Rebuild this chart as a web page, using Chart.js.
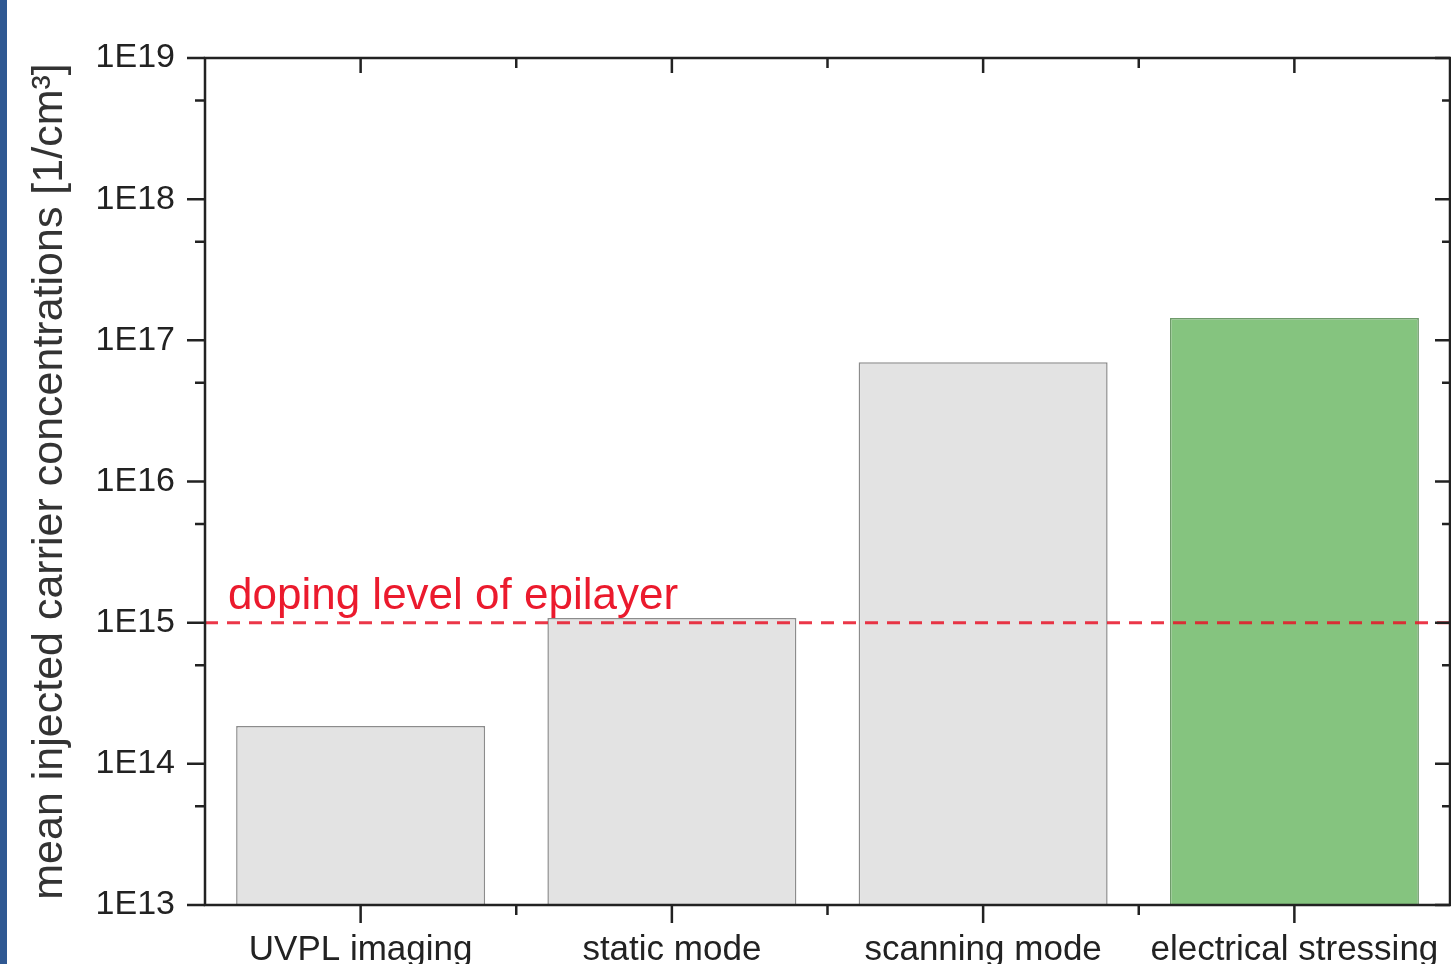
<!DOCTYPE html>
<html>
<head>
<meta charset="utf-8">
<script src="https://cdn.jsdelivr.net/npm/chart.js@4.4.1/dist/chart.umd.min.js"></script>
<style>
  html, body { margin: 0; padding: 0; background: #fff; overflow: hidden; }
  canvas { display: block; }
</style>
</head>
<body>
<canvas id="myChart" width="1451" height="964"></canvas>
<script>
// chart data
const categories = ['UVPL imaging', 'static mode', 'scanning mode', 'electrical stressing'];
const carrierValues = [1.85e14, 1.08e15, 7.0e16, 1.44e17];
const barColors = ['#e3e3e3', '#e3e3e3', '#e3e3e3', '#85c47f'];
const barBorders = ['#8c8c8c', '#8c8c8c', '#8c8c8c', '#6f9a6b'];
const yTickValues = [1e13, 1e14, 1e15, 1e16, 1e17, 1e18, 1e19];
const yTickLabels = ['1E13', '1E14', '1E15', '1E16', '1E17', '1E18', '1E19'];
const yMinorValues = [5e13, 5e14, 5e15, 5e16, 5e17, 5e18];
const dopingLevel = 1e15;
const dopingLabel = 'doping level of epilayer';

const axisColor = '#222';
const fontFamily = '"Liberation Sans", Arial, sans-serif';

// left blue stripe of the slide
const backgroundPlugin = {
    id: 'background',
    beforeDraw(chart) {
        const ctx = chart.ctx;
        ctx.save();
        ctx.fillStyle = '#fff';
        ctx.fillRect(0, 0, chart.width, chart.height);
        ctx.fillStyle = '#2f5892';
        ctx.fillRect(0, 0, 7, chart.height);
        ctx.restore();
    }
};

// red dashed doping line with its label
const dopingPlugin = {
    id: 'doping',
    afterDatasetsDraw(chart) {
        const ctx = chart.ctx;
        const area = chart.chartArea;
        const y = chart.scales.y.getPixelForValue(dopingLevel);
        ctx.save();
        ctx.strokeStyle = 'rgba(232, 20, 40, 0.85)';
        ctx.lineWidth = 3;
        ctx.setLineDash([13, 9]);
        ctx.beginPath();
        ctx.moveTo(area.left, y);
        ctx.lineTo(area.right, y);
        ctx.stroke();
        ctx.setLineDash([]);
        ctx.fillStyle = '#eb1a2d';
        ctx.font = '44px ' + fontFamily;
        ctx.textBaseline = 'alphabetic';
        ctx.fillText(dopingLabel, area.left + 23, y - 14);
        ctx.restore();
    }
};

// frame on all four sides with major and minor ticks
const framePlugin = {
    id: 'frame',
    afterDraw(chart) {
        const ctx = chart.ctx;
        const a = chart.chartArea;
        const xs = chart.scales.x;
        const ys = chart.scales.y;
        ctx.save();
        ctx.strokeStyle = axisColor;
        ctx.lineWidth = 2.5;
        ctx.beginPath();
        ctx.rect(a.left, a.top, a.right - a.left, a.bottom - a.top);
        ctx.stroke();

        ctx.beginPath();
        // y ticks: outward on the left, inward on the right
        yTickValues.forEach(v => {
            const y = ys.getPixelForValue(v);
            ctx.moveTo(a.left - 18, y); ctx.lineTo(a.left, y);
            ctx.moveTo(a.right - 15, y); ctx.lineTo(a.right, y);
        });
        yMinorValues.forEach(v => {
            const y = ys.getPixelForValue(v);
            ctx.moveTo(a.left - 10, y); ctx.lineTo(a.left, y);
            ctx.moveTo(a.right - 8, y); ctx.lineTo(a.right, y);
        });
        // x ticks: outward on the bottom, inward on the top
        const step = (a.right - a.left) / categories.length;
        categories.forEach((c, i) => {
            const x = xs.getPixelForValue(i);
            ctx.moveTo(x, a.bottom); ctx.lineTo(x, a.bottom + 18);
            ctx.moveTo(x, a.top); ctx.lineTo(x, a.top + 15);
            if (i > 0) {
                const xm = x - step / 2;
                ctx.moveTo(xm, a.bottom); ctx.lineTo(xm, a.bottom + 10);
                ctx.moveTo(xm, a.top); ctx.lineTo(xm, a.top + 10);
            }
        });
        ctx.stroke();
        ctx.restore();
    }
};

function renderChart() {
    const ctx = document.getElementById('myChart').getContext('2d');

    const config = {
        type: 'bar',
        data: {
            labels: categories,
            datasets: [{
                data: carrierValues,
                backgroundColor: barColors,
                borderColor: barBorders,
                borderWidth: 1.5,
                barPercentage: 0.8,
                categoryPercentage: 1.0
            }]
        },
        options: {
            responsive: false,
            animation: false,
            layout: {
                padding: { top: 58, right: 1, left: 0, bottom: 0 }
            },
            plugins: {
                legend: { display: false },
                tooltip: { enabled: false }
            },
            scales: {
                x: {
                    grid: { display: false, drawTicks: false },
                    border: { display: false },
                    ticks: {
                        color: axisColor,
                        padding: 24,
                        maxRotation: 0,
                        font: { family: fontFamily, size: 35 }
                    },
                    afterFit(scale) {
                        scale.height = 59;
                        scale.paddingLeft = 0;
                        scale.paddingRight = 0;
                    }
                },
                y: {
                    type: 'logarithmic',
                    min: 1e13,
                    max: 1e19,
                    grid: { display: false, drawTicks: false },
                    border: { display: false },
                    afterBuildTicks(scale) {
                        scale.ticks = yTickValues.map(v => ({ value: v }));
                    },
                    ticks: {
                        color: axisColor,
                        padding: 30,
                        font: { family: fontFamily, size: 34 },
                        callback: function(value) {
                            const i = yTickValues.indexOf(value);
                            return i >= 0 ? yTickLabels[i] : '';
                        }
                    },
                    title: {
                        display: true,
                        text: 'mean injected carrier concentrations [1/cm³]',
                        color: '#333',
                        padding: { top: 24, bottom: 0 },
                        font: { family: fontFamily, size: 43 }
                    },
                    afterFit(scale) {
                        scale.width = 205;
                        scale.paddingTop = 0;
                        scale.paddingBottom = 0;
                    }
                }
            }
        },
        plugins: [backgroundPlugin, dopingPlugin, framePlugin]
    };

    new Chart(ctx, config);
}

document.addEventListener('DOMContentLoaded', function() {
    renderChart();
});
</script>
</body>
</html>
